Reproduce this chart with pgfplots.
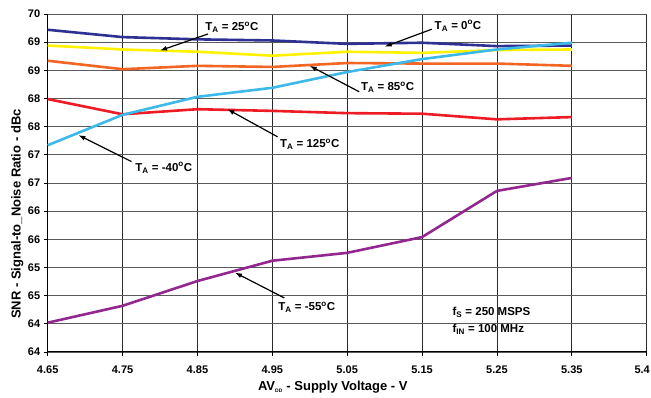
\documentclass[border=0pt]{standalone}
\usepackage{fontspec}
\setmainfont{Liberation Sans}
\usepackage{pgfplots}
\pgfplotsset{compat=1.18}
\usetikzlibrary{arrows.meta}
\definecolor{cNavy}{HTML}{2E3192}
\definecolor{cYellow}{HTML}{FFF200}
\definecolor{cOrange}{HTML}{F26522}
\definecolor{cRed}{HTML}{ED1C24}
\definecolor{cCyan}{HTML}{3CB9E8}
\definecolor{cPurple}{HTML}{92278F}
\definecolor{cGridY}{HTML}{5A5A5A}
\definecolor{cGridX}{HTML}{2A2A2A}
\newcommand{\ann}{\bfseries\fontsize{11.5}{13}\selectfont}
\begin{document}
\begin{tikzpicture}
\begin{axis}[
  at={(0pt,0pt)}, anchor=south west,
  scale only axis, width=599pt, height=338pt,
  xmin=4.65, xmax=5.45, ymin=64, ymax=70,
  axis lines=left, axis line style={-, black, line width=1pt},
  xtick={4.65,4.75,4.85,4.95,5.05,5.15,5.25,5.35,5.45},
  xticklabels={4.65,4.75,4.85,4.95,5.05,5.15,5.25,5.35,{\hspace*{-9pt}5.4}},
  ytick={64,64.5,65,65.5,66,66.5,67,67.5,68,68.5,69,69.5,70},
  yticklabels={64,64,65,65,66,66,67,67,68,68,69,69,70},
  grid=major,
  x grid style={cGridX, line width=0.8pt},
  y grid style={cGridY, line width=0.8pt},
  tick align=outside, major tick length=4pt, tick style={black, line width=0.8pt},
  ticklabel style={font=\bfseries\fontsize{11}{13}\selectfont},
  xticklabel style={yshift=-6pt},
  xlabel={AV\textsubscript{\tiny DD} - Supply Voltage - V},
  ylabel={SNR - Signal-to\_Noise Ratio - dBc},
  label style={font=\bfseries\fontsize{13}{15}\selectfont},
  xlabel style={at={(ticklabel cs:0.476)}, anchor=near ticklabel, inner sep=1pt, yshift=-3pt},
  ylabel style={at={(ticklabel cs:0.408)}, anchor=near ticklabel, inner sep=1pt},
  every axis plot/.append style={line width=2.6pt, line join=round},
  clip=false,
]
% T_A = 0 C
\addplot[cNavy] coordinates {(4.65,69.72) (4.75,69.59) (4.85,69.55) (4.95,69.53) (5.05,69.47) (5.15,69.49) (5.25,69.43) (5.35,69.44)};
% T_A = 25 C
\addplot[cYellow] coordinates {(4.65,69.44) (4.75,69.37) (4.85,69.33) (4.95,69.26) (5.05,69.33) (5.15,69.31) (5.25,69.36) (5.35,69.37)};
% T_A = 85 C
\addplot[cOrange] coordinates {(4.65,69.17) (4.75,69.02) (4.85,69.08) (4.95,69.06) (5.05,69.13) (5.15,69.12) (5.25,69.12) (5.35,69.08)};
% T_A = 125 C
\addplot[cRed] coordinates {(4.65,68.49) (4.75,68.22) (4.85,68.31) (4.95,68.28) (5.05,68.24) (5.15,68.23) (5.25,68.13) (5.35,68.17)};
% T_A = -40 C
\addplot[cCyan] coordinates {(4.65,67.67) (4.75,68.21) (4.85,68.53) (4.95,68.69) (5.05,68.97) (5.15,69.2) (5.25,69.37) (5.35,69.49)};
% T_A = -55 C
\addplot[cPurple] coordinates {(4.65,64.52) (4.75,64.82) (4.85,65.26) (4.95,65.62) (5.05,65.76) (5.15,66.04) (5.25,66.86) (5.35,67.09)};

\begin{scope}[line width=1.2pt, -{Latex[length=7pt,width=5pt]}]
\draw (axis cs:4.864,69.645) -- (axis cs:4.800,69.35);
\draw (axis cs:5.163,69.73) -- (axis cs:5.100,69.42);
\draw (axis cs:5.066,68.62) -- (axis cs:5.000,69.08);
\draw (axis cs:4.957,67.82) -- (axis cs:4.890,68.31);
\draw (axis cs:4.762,67.38) -- (axis cs:4.691,67.85);
\draw (axis cs:4.966,64.96) -- (axis cs:4.900,65.41);
\end{scope}
\node[font=\ann] at (axis cs:4.896,69.77) {T\textsubscript{A} = 25\textsuperscript{o}C};
\node[font=\ann] at (axis cs:5.198,69.79) {T\textsubscript{A} = 0\textsuperscript{o}C};
\node[font=\ann] at (axis cs:5.104,68.70) {T\textsubscript{A} = 85\textsuperscript{o}C};
\node[font=\ann] at (axis cs:5.000,67.69) {T\textsubscript{A} = 125\textsuperscript{o}C};
\node[font=\ann] at (axis cs:4.805,67.27) {T\textsubscript{A} = -40\textsuperscript{o}C};
\node[font=\ann] at (axis cs:4.996,64.79) {T\textsubscript{A} = -55\textsuperscript{o}C};
\node[font=\ann, anchor=west] at (axis cs:5.186,64.71) {f\textsubscript{S} = 250 MSPS};
\node[font=\ann, anchor=west] at (axis cs:5.186,64.40) {f\textsubscript{IN} = 100 MHz};
\end{axis}
\pgfresetboundingbox
\path (-47.7pt,-46pt) rectangle (603.3pt,352pt);
\end{tikzpicture}
\end{document}
